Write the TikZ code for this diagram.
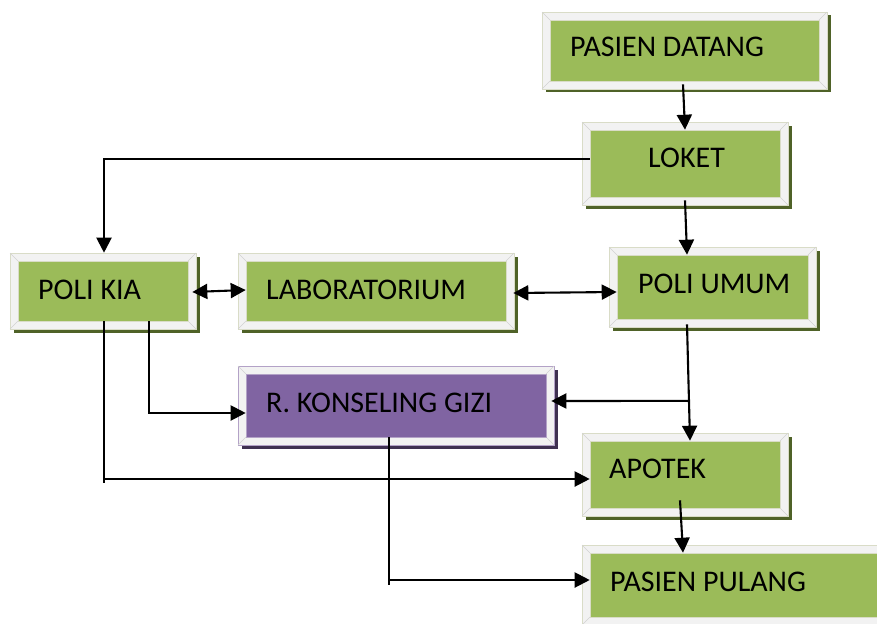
\documentclass[tikz,border=0pt]{standalone}
\usepackage{fontspec}
\setmainfont{Carlito}
\usetikzlibrary{arrows.meta,calc,fit}

\definecolor{framefill}{HTML}{F2F2F2}
\definecolor{frameline}{HTML}{D9DCC7}
\definecolor{bevelline}{HTML}{D2D2D2}
\definecolor{facegreen}{HTML}{9BBB59}
\definecolor{shadowgreen}{HTML}{4F6228}
\definecolor{edgegreen}{HTML}{C3D69B}
\definecolor{facepurple}{HTML}{8064A2}
\definecolor{shadowpurple}{HTML}{3F3151}
\definecolor{edgepurple}{HTML}{B3A2C7}

\tikzset{
  x=1pt, y=-1pt,
  bevel/.style={draw=bevelline, line width=0.6pt},
  boxtext/.style={anchor=base west, inner sep=0pt, text=black,
    font=\fontsize{30}{35}\selectfont},
  link/.style={draw=black, line width=2.1pt},
  arr/.style={link, -{Triangle[length=15pt,width=15pt]}},
  darr/.style={link, {Triangle[length=15pt,width=15pt]}-{Triangle[length=15pt,width=15pt]}},
}

% framed panel: name, x1, y1, x2, y2, face colour, shadow colour, outline colour
\newcommand\flowpanel[8]{%
  \fill[#7] ({#2+3.5},{#3+3.5}) rectangle ({#4+3.5},{#5+3.5});
  \filldraw[fill=framefill, draw=#8, line width=0.8pt] (#2,#3) rectangle (#4,#5);
  \draw[bevel] (#2,#3) -- ({#2+8},{#3+8}) (#4,#3) -- ({#4-8},{#3+8})
               (#2,#5) -- ({#2+8},{#5-8}) (#4,#5) -- ({#4-8},{#5-8});
  \node[fit={({#2+8},{#3+8}) ({#4-8},{#5-8})}, inner sep=0pt,
        fill=#6, draw=#8, line width=0.6pt] (#1) {};
}

\begin{document}
\begin{tikzpicture}
\useasboundingbox (0,0) rectangle (877,623);
\clip (0,0) rectangle (877,623);

% boxes
\flowpanel{pd}{542}{12}{827}{89}{facegreen}{shadowgreen}{frameline}
\flowpanel{lk}{582}{122}{788}{205}{facegreen}{shadowgreen}{frameline}
\flowpanel{pk}{10}{253}{196}{329}{facegreen}{shadowgreen}{frameline}
\flowpanel{lab}{238}{253}{514}{329}{facegreen}{shadowgreen}{frameline}
\flowpanel{pu}{609}{247}{816}{327}{facegreen}{shadowgreen}{frameline}
\flowpanel{rk}{238}{366}{554}{445}{facepurple}{shadowpurple}{edgepurple}
\flowpanel{ap}{582}{433}{788}{516}{facegreen}{shadowgreen}{frameline}
\flowpanel{pp}{582}{545}{900}{625}{facegreen}{shadowgreen}{frameline}

% labels
\node[boxtext] (pd-t)  at (570,57)  {PASIEN DATANG};
\node[boxtext] (lk-t)  at (648,167) {LOKET};
\node[boxtext] (pk-t)  at (38,299)  {POLI KIA};
\node[boxtext] (lab-t) at (266,299) {LABORATORIUM};
\node[boxtext] (pu-t)  at (638,293) {POLI UMUM};
\node[boxtext] (rk-t)  at (266,412) {R. KONSELING GIZI};
\node[boxtext] (ap-t)  at (609,478) {APOTEK};
\node[boxtext] (pp-t)  at (610,591) {PASIEN PULANG};

% connector end points
\coordinate (kiaout) at ([xshift=1pt]pk.south);
\coordinate (apin)   at ([yshift=-4.5pt]ap.west);
\coordinate (puout)  at ([shift={(-25.5pt,-5pt)}]pu.south);
\coordinate (aptop)  at ([xshift=5pt]ap.north);
\coordinate (rkin)   at ([shift={(5pt,4.5pt)}]rk.east);
\coordinate (branch) at ($(puout)!0.658!(aptop)$);
\coordinate (gizout) at ([xshift=-7pt]rk.south);
\coordinate (ppin)   at ([yshift=5pt]pp.west);

% connectors
\draw[arr] ([shift={(-1.5pt,-3pt)}]pd.south) -- (lk.north);
\draw[arr] ([yshift=4.5pt]lk.west) -| ([shift={(1pt,8pt)}]pk.north);
\draw[arr] ([yshift=-3pt]lk.south) -- ([xshift=-25.5pt]pu.north);
\draw[darr] ([shift={(4pt,-1pt)}]pk.east) -- ([yshift=1pt]lab.west);
\draw[darr] ([shift={(7pt,-2pt)}]lab.east) -- ([yshift=-5pt]pu.west);
\draw[arr] ([xshift=46pt]pk.south) |- ([yshift=-7.5pt]rk.west);
\draw[arr] (kiaout) |- (apin);
\draw[link] (kiaout |- apin) -- ++(0,4);
\draw[arr] (puout) -- (aptop);
\draw[arr] (branch) -- (rkin);
\draw[arr] ([shift={(-5pt,8pt)}]ap.south) -- ([xshift=-58pt]pp.north);
\draw[arr] (gizout) |- (ppin);
\draw[link] (gizout |- ppin) -- ++(0,5);
\end{tikzpicture}
\end{document}
